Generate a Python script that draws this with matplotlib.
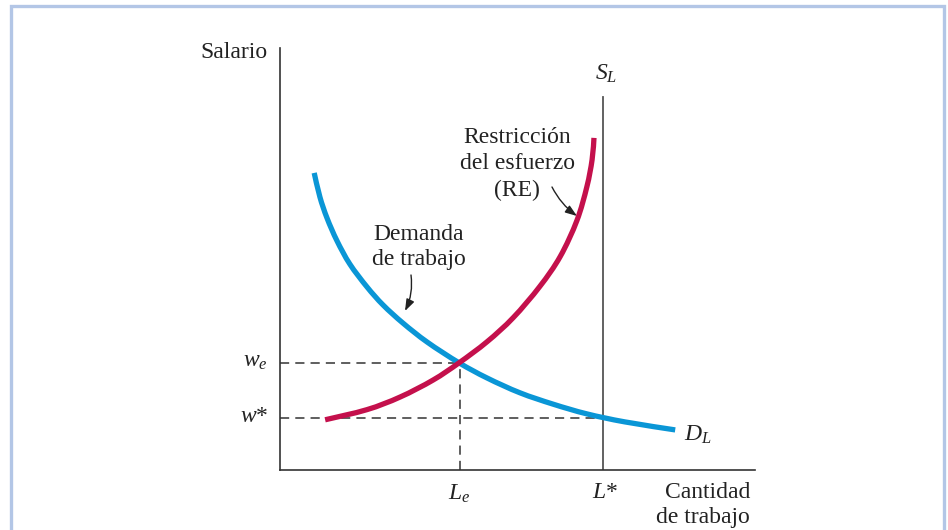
import matplotlib
matplotlib.use("Agg")
import matplotlib.pyplot as plt
import numpy as np
from matplotlib.lines import Line2D
from matplotlib.path import Path
from matplotlib.patches import PathPatch

# ---------------- data (axis units: 0..10 on both axes) ----------------
demand_x = [0.72, 0.84, 0.99, 1.20, 1.47, 1.83, 2.17, 2.59, 3.10, 3.77,
            4.36, 5.05, 5.75, 6.46, 7.26, 8.32]
demand_y = [7.04, 6.47, 5.97, 5.43, 4.88, 4.34, 3.91, 3.48, 3.03, 2.54,
            2.18, 1.83, 1.56, 1.33, 1.14, 0.95]

re_x = [0.95, 1.83, 2.53, 3.22, 3.77, 4.36, 4.91, 5.47, 5.90, 6.25, 6.46, 6.57, 6.61]
re_y = [1.19, 1.43, 1.73, 2.13, 2.54, 3.04, 3.61, 4.35, 5.06, 5.91, 6.71, 7.35, 7.87]

L_e = 3.78
L_star = 6.80
w_e = 2.54
w_star = 1.23
SL_top = 8.85

labels_y = [r"$w_e$", r"$w$*"]
labels_x = [r"$L_e$", r"$L$*"]

# ---------------- style ----------------
plt.rcParams["font.family"] = ["Liberation Serif", "DejaVu Serif"]
plt.rcParams["mathtext.fontset"] = "custom"
plt.rcParams["mathtext.it"] = "Liberation Serif:italic"
plt.rcParams["mathtext.rm"] = "Liberation Serif"
plt.rcParams["mathtext.default"] = "it"

W, H = 948, 530
fig = plt.figure(figsize=(W / 100, H / 100), dpi=100)
fig.patch.set_facecolor("white")

# frame (top, left, right)
fc = "#B3C6E6"
fig.add_artist(Line2D([11 / W, 11 / W, 944 / W, 944 / W],
                      [0, 1 - 6 / H, 1 - 6 / H, 0],
                      transform=fig.transFigure, color=fc, lw=2.4,
                      solid_joinstyle="miter"))

x0, y0, x1, y1 = 280, 470, 755, 48
ax = fig.add_axes([x0 / W, (H - y0) / H, (x1 - x0) / W, (y0 - y1) / H])
ax.set_xlim(0, 10)
ax.set_ylim(0, 10)
for s in ("top", "right"):
    ax.spines[s].set_visible(False)
for s in ("left", "bottom"):
    ax.spines[s].set_color("#333333")
    ax.spines[s].set_linewidth(1.2)
ax.set_xticks([])
ax.set_yticks([])
ax.patch.set_alpha(0)


def P(px, py):
    return ((px - x0) / 47.5, (y0 - py) / 42.2)


def smooth_path(xs, ys):
    """Bezier path passing through every data point (Catmull-Rom handles)."""
    pts = np.column_stack([xs, ys])
    n = len(pts)
    verts = [pts[0]]
    codes = [Path.MOVETO]
    for i in range(n - 1):
        p0 = pts[max(i - 1, 0)]
        p1 = pts[i]
        p2 = pts[i + 1]
        p3 = pts[min(i + 2, n - 1)]
        c1 = p1 + (p2 - p0) / 6.0
        c2 = p2 - (p3 - p1) / 6.0
        verts += [c1, c2, p2]
        codes += [Path.CURVE4] * 3
    return Path(verts, codes)


dash = dict(color="#333333", lw=1.1, dashes=(6, 4))
ax.plot([0, L_e], [w_e, w_e], **dash)
ax.plot([L_e, L_e], [0, w_e], **dash)
ax.plot([0, L_star], [w_star, w_star], **dash)

# supply line
ax.plot([L_star, L_star], [0, SL_top], color="#555555", lw=1.3)

blue = "#0A96D6"
red = "#C4104C"
ax.add_patch(PathPatch(smooth_path(demand_x, demand_y), facecolor="none",
                       edgecolor=blue, lw=3.8, capstyle="butt", zorder=3))
ax.add_patch(PathPatch(smooth_path(re_x, re_y), facecolor="none",
                       edgecolor=red, lw=3.8, capstyle="butt", zorder=4))

fs = 17
tk = dict(fontsize=fs, color="#222222", clip_on=False)

ax.text(*P(268, 52), "Salario", ha="right", va="center", **tk)
ax.text(*P(750, 505), "Cantidad\nde trabajo", ha="right", va="center",
        multialignment="right", linespacing=1.28, **tk)
ax.text(*P(517, 164), "Restricción\ndel esfuerzo\n(RE)", ha="center", va="center",
        multialignment="center", linespacing=1.32, **tk)
ax.text(*P(419, 247), "Demanda\nde trabajo", ha="center", va="center",
        multialignment="center", linespacing=1.28, **tk)

ax.text(*P(268, 362), labels_y[0], ha="right", va="center", **tk)
ax.text(*P(268, 416), labels_y[1], ha="right", va="center", **tk)
ax.text(L_e, P(0, 494)[1], labels_x[0], ha="center", va="center", **tk)
ax.text(L_star + 0.05, P(0, 492)[1], labels_x[1], ha="center", va="center", **tk)
ax.text(*P(606, 74), r"$S_L$", ha="center", va="center", **tk)
ax.text(*P(684, 435), r"$D_L$", ha="left", va="center", **tk)

arrow = dict(arrowstyle="-|>,head_length=0.7,head_width=0.25", color="#222222",
             lw=1.0, shrinkA=0, shrinkB=0)
ax.annotate("", xy=P(577, 216), xytext=P(552, 187),
            arrowprops=dict(connectionstyle="arc3,rad=0.12", **arrow))
ax.annotate("", xy=P(405, 311), xytext=P(411, 275),
            arrowprops=dict(connectionstyle="arc3,rad=-0.15", **arrow))

fig.savefig("out.png", dpi=100, facecolor="white")
